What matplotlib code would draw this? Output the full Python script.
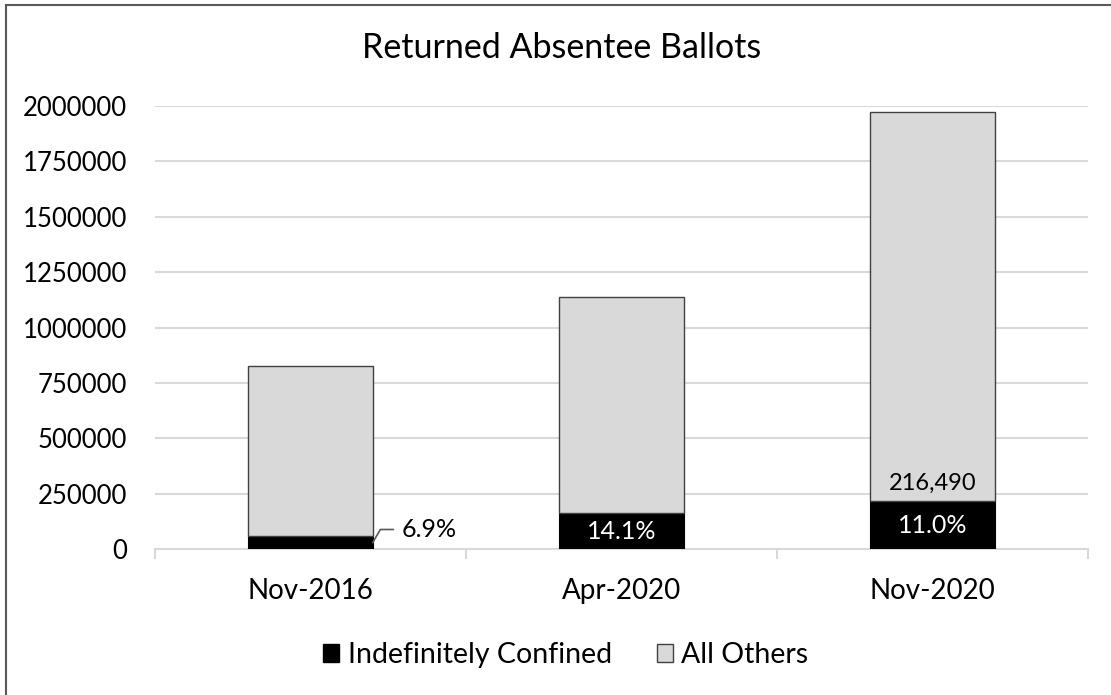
import matplotlib
matplotlib.use("Agg")
import matplotlib.pyplot as plt
from matplotlib.patches import Patch
from matplotlib.lines import Line2D

categories = ["Nov-2016", "Apr-2020", "Nov-2020"]
indefinitely_confined = [57000, 160600, 216490]
all_others = [769000, 978400, 1756510]
yticks = [0, 250000, 500000, 750000, 1000000, 1250000, 1500000, 1750000, 2000000]

plt.rcParams['font.family'] = ['Lato', 'DejaVu Sans']

W, H = 1111, 695
fig = plt.figure(figsize=(W / 100, H / 100), dpi=100)
ax = fig.add_axes([155 / W, 1 - 549 / H, (1088 - 155) / W, (549 - 106) / H])

x = list(range(len(categories)))
width = 0.40
ax.bar(x, indefinitely_confined, width, color='black', edgecolor='black', linewidth=0.8,
       label='Indefinitely Confined', zorder=3)
ax.bar(x, all_others, width, bottom=indefinitely_confined, color='#d9d9d9',
       edgecolor='#404040', linewidth=1.0, label='All Others', zorder=3)

ax.set_ylim(0, 2000000)
ax.set_xlim(-0.5, len(categories) - 0.5)
ax.set_yticks(yticks)
ax.set_yticklabels([str(v) for v in yticks])
ax.yaxis.grid(True, color='#d9d9d9', linewidth=1.5, zorder=0)
ax.set_axisbelow(True)
for s in ['left', 'right', 'top']:
    ax.spines[s].set_visible(False)
ax.spines['bottom'].set_color('#d9d9d9')
ax.spines['bottom'].set_linewidth(1.5)
ax.tick_params(axis='y', length=0, pad=20, labelsize=18.5, labelcolor='black')
ax.set_xticks(x)
ax.set_xticklabels(categories)
ax.set_xticks([i - 0.5 for i in range(len(categories) + 1)], minor=True)
ax.tick_params(axis='x', which='major', length=0, pad=21, labelsize=20)
ax.tick_params(axis='x', which='minor', length=7.5, width=1.5, color='#d9d9d9')

# data labels
for i in range(len(categories)):
    total = indefinitely_confined[i] + all_others[i]
    pct = f"{indefinitely_confined[i] / total * 100:.1f}%"
    if i == 0:
        ax.annotate(pct, xy=(i + width / 2, indefinitely_confined[i] / 2), xytext=(21, 9.5),
                    textcoords='offset points', ha='left', va='center', fontsize=18,
                    arrowprops=dict(arrowstyle='-', color='#595959', lw=1.2,
                                    connectionstyle='angle,angleA=0,angleB=60,rad=0',
                                    shrinkA=4, shrinkB=0))
    else:
        ax.text(i, indefinitely_confined[i] / 2, pct, ha='center', va='center',
                color='white', fontsize=18, zorder=4)
ax.annotate(f"{indefinitely_confined[2]:,}", xy=(2, indefinitely_confined[2]), xytext=(0, 13),
            textcoords='offset points', ha='center', va='center', fontsize=17, zorder=4)

fig.text(562 / W, 1 - 48 / H, "Returned Absentee Ballots", ha='center', va='center', fontsize=24.5)

handles = [Patch(facecolor='black', edgecolor='black'),
           Patch(facecolor='#d9d9d9', edgecolor='#404040')]
fig.legend(handles, ['Indefinitely Confined', 'All Others'], loc='center',
           bbox_to_anchor=(566 / W, 1 - 655 / H), ncol=2, frameon=False, fontsize=20.5,
           handlelength=0.55, handleheight=0.55, handletextpad=0.3, columnspacing=1.6)

# chart border (left and top visible)
fig.add_artist(Line2D([6 / W, 6 / W], [0, 1 - 5 / H], color='#595959', lw=1.5))
fig.add_artist(Line2D([6 / W, 1], [1 - 5 / H, 1 - 5 / H], color='#595959', lw=1.5))

fig.savefig("out.png", dpi=100)
